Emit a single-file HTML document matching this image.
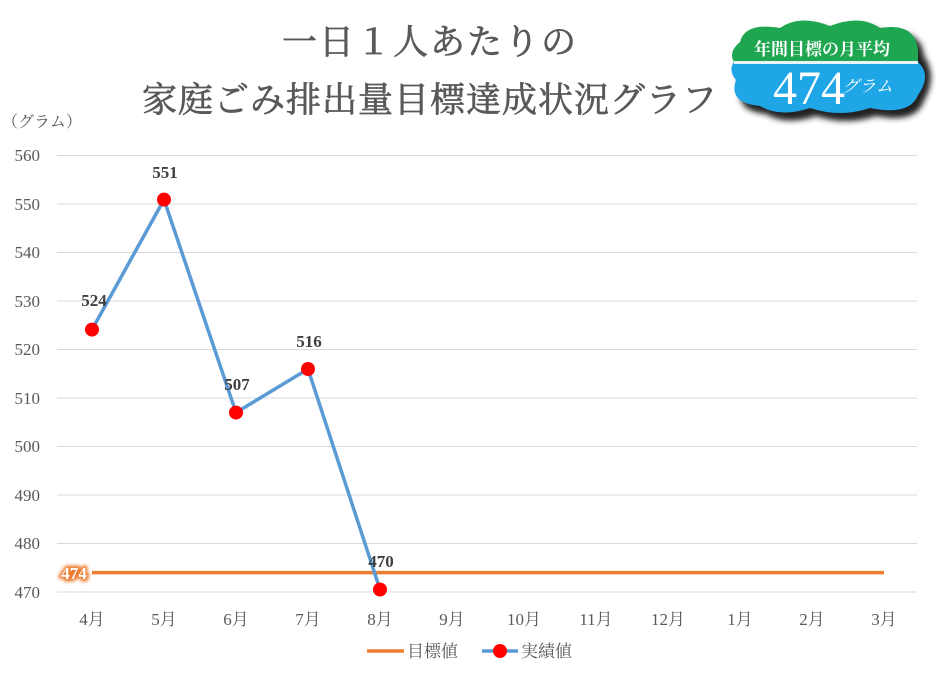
<!DOCTYPE html>
<html><head><meta charset="utf-8"><style>
html,body{margin:0;padding:0;background:#fff}
svg text{font-family:"Liberation Serif","Noto Serif CJK SC",serif}
</style></head><body>
<svg width="936" height="669" viewBox="0 0 936 669" xmlns="http://www.w3.org/2000/svg">
<defs>
<filter id="bl" x="-20%" y="-20%" width="140%" height="140%"><feGaussianBlur stdDeviation="3"/></filter>
<filter id="sh" x="-20%" y="-20%" width="140%" height="140%"><feGaussianBlur stdDeviation="1.5"/></filter>
</defs>
<text x="430" y="54" font-size="35" fill="#595959" stroke="#595959" stroke-width="0.7" text-anchor="middle" letter-spacing="2">一日１人あたりの</text>
<text x="430" y="112" font-size="35" fill="#595959" stroke="#595959" stroke-width="0.7" text-anchor="middle" letter-spacing="1">家庭ごみ排出量目標達成状況グラフ</text>
<!-- badge -->
<g>
<path d="M740 42 Q745 22 780 28 Q800 14 830 26 Q860 14 880 28 Q915 22 918 50 Q932 70 918 95 Q910 118 870 110 Q840 120 810 110 Q780 120 760 108 Q728 105 736 80 Q724 60 740 42Z" fill="#222" filter="url(#bl)" transform="translate(6,6)"/>
<path d="M740 42 Q745 22 780 28 Q800 14 830 26 Q860 14 880 28 Q915 22 918 50 L918 62 L734 62 Q728 52 740 42Z" fill="#1fa650"/>
<path d="M734 62 L918 62 Q932 75 918 95 Q910 116 870 108 Q840 118 810 108 Q780 118 760 106 Q728 103 736 80 Q728 70 734 62Z" fill="#1ea6e6"/>
<rect x="734" y="61" width="184" height="3" fill="#e8f4f8"/>
<text x="822" y="55" font-size="17" fill="#fff" font-weight="bold" text-anchor="middle">年間目標の月平均</text>
<text x="773" y="104" font-size="48" fill="#fff">474</text>
<text x="842" y="92" font-size="17" fill="#fff" font-style="italic">グラム</text>
</g>
<text x="2" y="127" font-size="16" fill="#595959">（グラム）</text>
<!-- grid -->
<g stroke="#d9d9d9" stroke-width="1">
<line x1="57" x2="917" y1="155.5" y2="155.5"/><line x1="57" x2="917" y1="204" y2="204"/>
<line x1="57" x2="917" y1="252.5" y2="252.5"/><line x1="57" x2="917" y1="301" y2="301"/>
<line x1="57" x2="917" y1="349.5" y2="349.5"/><line x1="57" x2="917" y1="398" y2="398"/>
<line x1="57" x2="917" y1="446.5" y2="446.5"/><line x1="57" x2="917" y1="495" y2="495"/>
<line x1="57" x2="917" y1="543.5" y2="543.5"/><line x1="57" x2="917" y1="592" y2="592"/>
</g>
<g font-size="17" fill="#595959" text-anchor="end">
<text x="40" y="161">560</text><text x="40" y="210">550</text><text x="40" y="258">540</text>
<text x="40" y="307">530</text><text x="40" y="355">520</text><text x="40" y="404">510</text>
<text x="40" y="452">500</text><text x="40" y="501">490</text><text x="40" y="549">480</text>
<text x="40" y="598">470</text>
</g>
<g font-size="17" fill="#595959" text-anchor="middle">
<text x="92" y="625">4月</text><text x="164" y="625">5月</text><text x="236" y="625">6月</text>
<text x="308" y="625">7月</text><text x="380" y="625">8月</text><text x="452" y="625">9月</text>
<text x="524" y="625">10月</text><text x="596" y="625">11月</text><text x="668" y="625">12月</text>
<text x="740" y="625">1月</text><text x="812" y="625">2月</text><text x="884" y="625">3月</text>
</g>
<line x1="92" x2="884" y1="572.6" y2="572.6" stroke="#ed7d31" stroke-width="3.5"/>
<text x="74" y="579" font-size="17" fill="#ed7d31" stroke="#ed7d31" stroke-width="5" text-anchor="middle" filter="url(#sh)">474</text>
<text x="74" y="579" font-size="17" fill="#fff" text-anchor="middle" font-weight="bold">474</text>
<polyline points="92,329.6 164,199.6 236,412.6 308,369 380,589.5" fill="none" stroke="#5b9bd5" stroke-width="3.5"/>
<g fill="#ff0000">
<circle cx="92" cy="329.6" r="7"/><circle cx="164" cy="199.6" r="7"/><circle cx="236" cy="412.6" r="7"/>
<circle cx="308" cy="369" r="7"/><circle cx="380" cy="589.5" r="7"/>
</g>
<g font-size="17" fill="#404040" font-weight="bold" text-anchor="middle">
<text x="94" y="306">524</text><text x="165" y="178">551</text><text x="237" y="390">507</text>
<text x="309" y="347">516</text><text x="381" y="567">470</text>
</g>
<line x1="367" x2="404" y1="651" y2="651" stroke="#ed7d31" stroke-width="3.5"/>
<text x="407" y="657" font-size="17" fill="#595959">目標値</text>
<line x1="482" x2="518" y1="651" y2="651" stroke="#5b9bd5" stroke-width="3.5"/>
<circle cx="500" cy="651" r="7" fill="#ff0000"/>
<text x="521" y="657" font-size="17" fill="#595959">実績値</text>
</svg>
</body></html>
